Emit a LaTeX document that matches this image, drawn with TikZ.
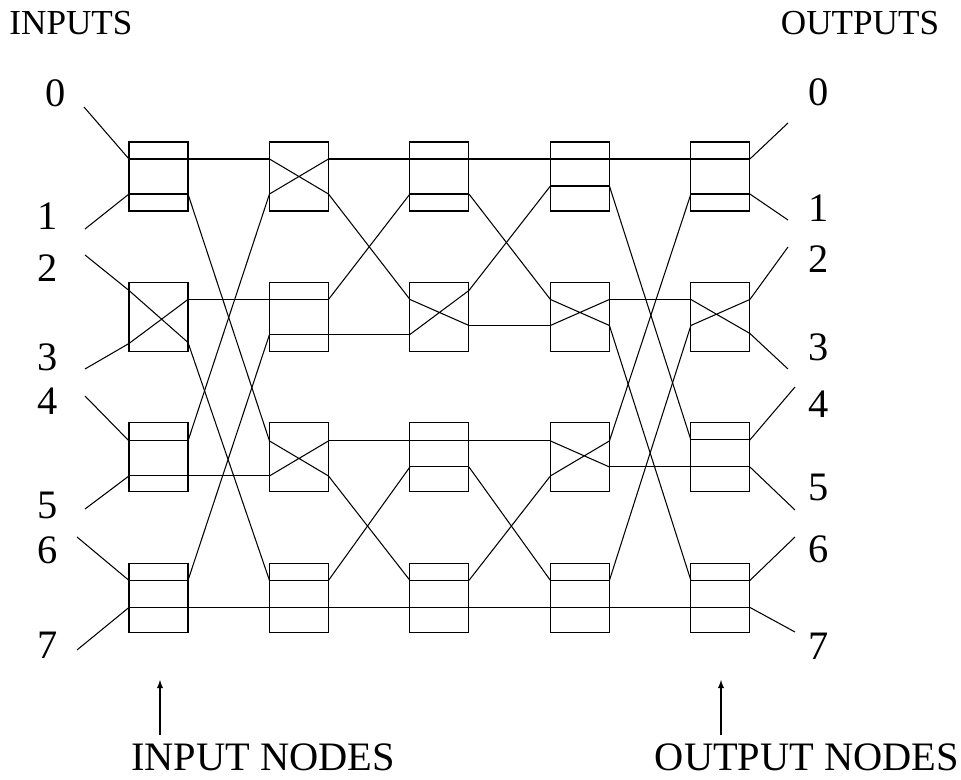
\documentclass[tikz,border=0pt]{standalone}
\usepackage{fontspec}
\setmainfont{Liberation Serif}
\usetikzlibrary{calc}
\begin{document}
\begin{tikzpicture}[
        x=0.02cm, y=-0.02cm,
        node distance=2.81cm,
        >=latex,
        line width=0.6pt,
        sw/.style={rectangle, draw, minimum width=1.18cm, minimum height=1.38cm, inner sep=0pt, outer sep=0pt},
        lbl/.style={font=\fontsize{23}{28}\selectfont, inner sep=0pt},
        ttl/.style={font=\fontsize{20}{24}\selectfont, inner sep=0pt}
    ]
    \useasboundingbox (0,0) rectangle (961,780);

    % Switches
    \node [sw] (B11) at (158.5,176.5) {};
    \node [sw, below of=B11] (B12) {};
    \node [sw, below of=B12] (B13) {};
    \node [sw, below of=B13] (B14) {};
    \foreach \c/\p in {2/1,3/2,4/3,5/4}
        \foreach \r in {1,...,4}
            \node [sw, right of=B\p\r] (B\c\r) {};

    % Ports, measured down from the top edge of each switch
    \foreach \b/\la/\lb/\ra/\rb in {11/17/52/17/52, 12/8/61/17/60, 13/18/53/18/53, 14/17/44/17/44,
                                    21/17/52/17/52, 22/17/52/17/52, 23/18/53/18/53, 24/17/44/17/44,
                                    31/17/52/17/52, 32/17/52/8/43, 33/18/44/18/44, 34/17/44/17/44,
                                    41/17/44/17/44, 42/17/43/17/43, 43/18/53/18/44, 44/17/44/17/44,
                                    51/17/52/17/52, 52/17/43/17/51, 53/17/44/17/44, 54/17/44/17/44} {
        \coordinate (B\b-l1) at ($(B\b.north west)+(0,\la)$);
        \coordinate (B\b-l2) at ($(B\b.north west)+(0,\lb)$);
        \coordinate (B\b-r1) at ($(B\b.north east)+(0,\ra)$);
        \coordinate (B\b-r2) at ($(B\b.north east)+(0,\rb)$);
    }

    % Switch settings: bar or cross
    \foreach \b in {11,13,14,22,24,31,33,34,41,44,51,53,54}
        \draw (B\b-l1) -- (B\b-r1) (B\b-l2) -- (B\b-r2);
    \foreach \b in {12,21,23,32,42,43,52}
        \draw (B\b-l1) -- (B\b-r2) (B\b-l2) -- (B\b-r1);

    % Links between stages
    \foreach \a/\b in {11-r1/21-l1, 11-r2/23-l1, 12-r1/22-l1, 12-r2/24-l1,
                       13-r1/21-l2, 13-r2/23-l2, 14-r1/22-l2, 14-r2/24-l2,
                       21-r1/31-l1, 21-r2/32-l1, 22-r1/31-l2, 22-r2/32-l2,
                       23-r1/33-l1, 23-r2/34-l1, 24-r1/33-l2, 24-r2/34-l2,
                       31-r1/41-l1, 31-r2/42-l1, 32-r1/41-l2, 32-r2/42-l2,
                       33-r1/43-l1, 33-r2/44-l1, 34-r1/43-l2, 34-r2/44-l2,
                       41-r1/51-l1, 41-r2/53-l1, 42-r1/52-l1, 42-r2/54-l1,
                       43-r1/51-l2, 43-r2/53-l2, 44-r1/52-l2, 44-r2/54-l2}
        \draw (B\a) -- (B\b);

    % Inputs
    \foreach \i/\x/\y/\p/\lx/\ly in {0/84/107/11-l1/56/93, 1/85/229/11-l2/48/216,
                                     2/85/255/12-l1/48/268, 3/85/369/12-l2/48/357,
                                     4/85/396/13-l1/48/401, 5/85/509/13-l2/48/505,
                                     6/77/537/14-l1/48/550, 7/77/650/14-l2/48/645} {
        \coordinate (in\i) at (\x,\y);
        \node [lbl] (inlbl\i) at (\lx,\ly) {\i};
        \draw (in\i) -- (B\p);
    }

    % Outputs
    \foreach \i/\x/\y/\p/\ly in {0/788/123/51-r1/92, 1/788/220/51-r2/208,
                                 2/788/247/52-r1/259, 3/788/369/52-r2/347,
                                 4/795/387/53-r1/404, 5/795/510/53-r2/487,
                                 6/795/537/54-r1/549, 7/795/632/54-r2/646} {
        \coordinate (out\i) at (\x,\y);
        \node [lbl] (outlbl\i) at (819,\ly) {\i};
        \draw (B\p) -- (out\i);
    }

    % Titles
    \node [ttl] (inputs) at (71,23) {INPUTS};
    \node [ttl] (outputs) at (860,23) {OUTPUTS};
    \node [lbl] (innodes) at (263,757) {INPUT NODES};
    \node [lbl] (outnodes) at (807,757) {OUTPUT NODES};

    % Pointers to the first and last stage
    \coordinate (intail) at (160,735);
    \coordinate (intip) at (160,680);
    \coordinate (outtail) at (721,735);
    \coordinate (outtip) at (721,680);
    \draw [->] (intail) -- (intip);
    \draw [->] (outtail) -- (outtip);
\end{tikzpicture}
\end{document}
